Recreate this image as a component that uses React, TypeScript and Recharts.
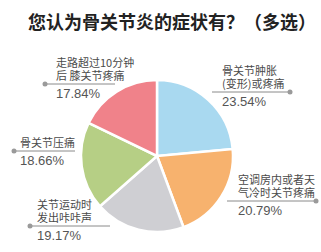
import { Pie, PieChart, Cell } from "recharts";

const CATEGORIES = [
  ["骨关节肿胀", "(变形)或疼痛"],
  ["空调房内或者天", "气冷时关节疼痛"],
  ["关节运动时", "发出咔咔声"],
  ["骨关节压痛"],
  ["走路超过10分钟", "后 膝关节疼痛"],
];
const VALUES = [23.54, 20.79, 19.17, 18.66, 17.84];

const COLORS = ["#a9d9f0", "#f7b26e", "#cfcfd3", "#b6cf85", "#f0828a"];

// label boxes, offsets from the pie centre
// dy = leader line y, x0..x1 = line extent, dot = dot x, tx = text x
const LABEL_POS = [
  { dy: -64, x0: 55, x1: 131, dot: 133, tx: 65 },
  { dy: 45, x0: 70, x1: 157, dot: 159, tx: 81 },
  { dy: 70, x0: -125, x1: -47, dot: -127, tx: -120 },
  { dy: -5, x0: -141, x1: -82, dot: -143, tx: -137 },
  { dy: -72, x0: -110, x1: -42, dot: -112, tx: -101 },
];

const rows = VALUES.map((v, i) => ({ name: CATEGORIES[i].join(""), value: v }));

const CJK = '"Noto Sans CJK SC", sans-serif';

function renderLabel(props: any) {
  const { cx, cy, index, value } = props;
  const p = LABEL_POS[index];
  const lines = CATEGORIES[index];
  const ly = cy + p.dy;
  const tx = cx + p.tx;
  return (
    <g key={`lbl-${index}`}>
      <line x1={cx + p.x0} x2={cx + p.x1} y1={ly} y2={ly} stroke="#8a8a8a" strokeWidth={1} />
      <circle cx={cx + p.dot} cy={ly} r={2.5} fill="#9a9a9a" />
      {lines.map((t, k) => (
        <text
          key={k}
          x={tx}
          y={ly - 4 - (lines.length - 1 - k) * 13}
          fontSize={11}
          fontFamily={CJK}
          fill="#4a4a4a"
        >
          {t}
        </text>
      ))}
      <text x={tx} y={ly + 14} fontSize={13} fontFamily='"Liberation Sans", Arial, sans-serif' fill="#555">
        {value.toFixed(2)}%
      </text>
    </g>
  );
}

export default function App() {
  return (
    <div style={{ position: "fixed", left: 0, top: 0, width: 321, height: 252, background: "#fff" }}>
      <div
        style={{
          position: "absolute",
          left: 28,
          top: 12,
          fontSize: 18,
          lineHeight: "18px",
          fontWeight: 700,
          fontFamily: CJK,
          color: "#222",
          whiteSpace: "nowrap",
        }}
      >
        您认为骨关节炎的症状有？（多选）
      </div>
      <PieChart width={321} height={252} style={{ position: "absolute", left: 0, top: 0 }}>
        <Pie
          data={rows}
          dataKey="value"
          nameKey="name"
          cx={152}
          cy={151}
          outerRadius={76}
          startAngle={90}
          endAngle={-270}
          stroke="#fff"
          strokeWidth={2.5}
          label={renderLabel}
          labelLine={false}
          isAnimationActive={false}
        >
          {rows.map((r, i) => (
            <Cell key={r.name} fill={COLORS[i]} />
          ))}
        </Pie>
      </PieChart>
    </div>
  );
}
